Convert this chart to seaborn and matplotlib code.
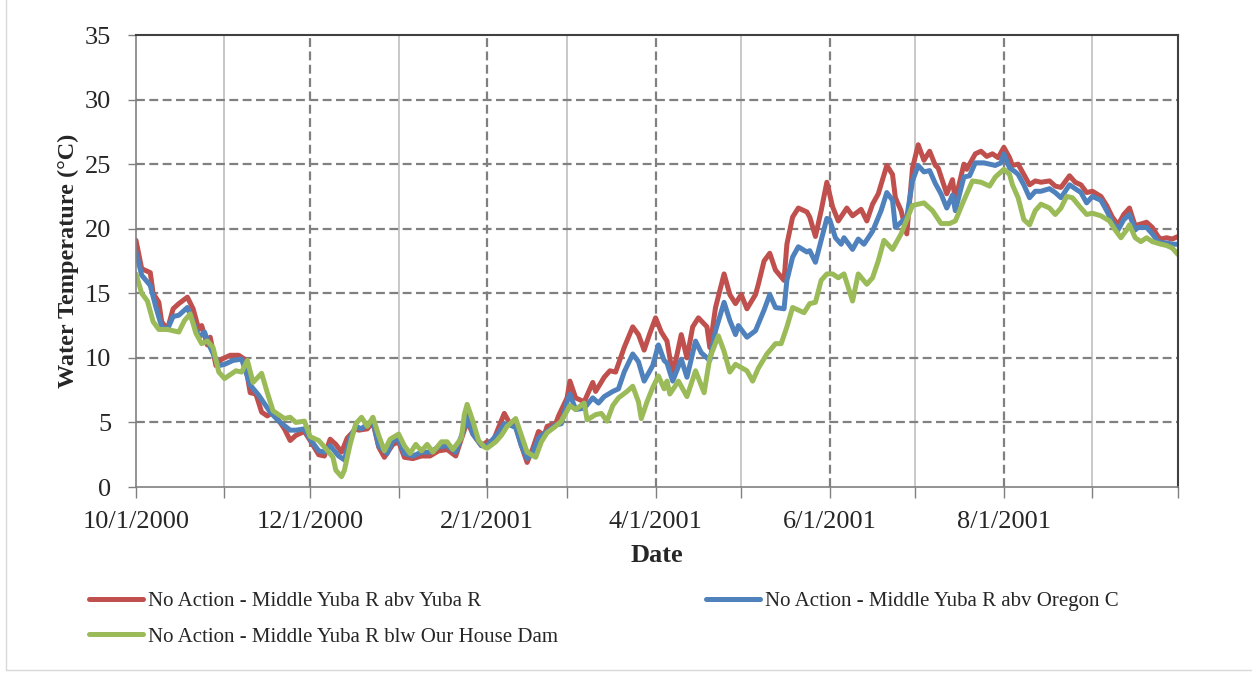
import pandas as pd
import matplotlib
matplotlib.use("Agg")
import matplotlib.pyplot as plt
import matplotlib.dates as mdates
from matplotlib.lines import Line2D
import seaborn as sns

# daily water temperature, day 0 = 10/1/2000
start = pd.Timestamp("2000-10-01")

red_days = [0, 2, 5, 6, 8, 9, 11, 13, 15, 18, 20, 22, 23, 25, 26, 28, 30, 33, 36, 38, 40, 42, 44, 46, 48, 52, 54, 56, 59,
            61, 64, 66, 68, 70, 72, 74, 77, 78, 81, 83, 85, 87, 90, 92, 94, 97, 100, 103, 106, 109, 112, 115, 116, 118, 121,
            123, 125, 127, 129, 131, 133, 135, 137, 139, 141, 143, 144, 147, 148, 151, 152, 154, 157, 160, 161, 164, 166, 168,
            171, 174, 176, 178, 180, 182, 184, 186, 188, 191, 193, 195, 197, 200, 201, 203, 206, 208, 210, 212, 214, 217, 218,
            220, 222, 224, 227, 228, 230, 232, 235, 236, 238, 240, 242, 244, 246, 249, 251, 254, 256, 258, 260, 263, 265, 266,
            268, 270, 272, 274, 276, 278, 280, 281, 284, 286, 287, 290, 291, 294, 296, 298, 300, 302, 304, 306, 307, 309, 311,
            313, 315, 317, 320, 322, 324, 327, 329, 331, 333, 335, 338, 340, 342, 344, 346, 348, 350, 351, 354, 356, 358, 359,
            361, 363, 365]
red_temp = [19.1, 16.9, 16.6, 15.0, 14.3, 12.8, 12.2, 13.8, 14.2, 14.7, 13.8, 12.2, 12.5, 11.0, 11.6, 9.4, 9.9, 10.2, 10.2,
            9.9, 7.3, 7.2, 5.8, 5.5, 5.8, 4.5, 3.6, 4.0, 4.3,
            3.6, 2.5, 2.4, 3.7, 3.3, 2.7, 3.8, 4.5, 4.4, 4.5, 5.0, 3.1, 2.3, 3.3, 3.5, 2.3, 2.2, 2.4, 2.4, 2.8, 2.9, 2.4, 4.4,
            5.1, 4.1, 3.2,
            3.5, 3.5, 4.6, 5.7, 4.9, 4.7, 3.2, 1.9, 3.0, 4.3, 4.0, 4.7, 4.9, 5.5, 6.9, 8.2, 6.9, 6.6, 8.1, 7.4, 8.5, 9.0, 8.9,
            10.8, 12.4, 11.8, 10.6, 11.9, 13.1, 12.0, 11.3, 8.7, 11.8, 10.0, 12.4, 13.1, 12.4, 10.8, 13.9, 16.5, 14.9, 14.2,
            14.9, 13.8, 14.9, 15.7, 17.5, 18.1, 16.8, 16.0, 18.8, 20.9, 21.6, 21.3, 20.9, 19.4, 21.4, 23.6, 21.7, 20.6, 21.6,
            21.0, 21.5, 20.6, 21.9, 22.7, 24.9, 24.2, 22.4, 21.4, 19.6, 24.7, 26.5, 25.3, 26.0, 24.9, 24.7, 22.7, 23.8, 22.2,
            25.0, 24.6, 25.8, 26.0, 25.6, 25.8, 25.5, 26.3, 25.5, 24.9, 25.0, 24.2, 23.4, 23.7, 23.6, 23.7, 23.3, 23.2, 24.1,
            23.6, 23.4, 22.8, 22.9, 22.5, 21.8, 20.9, 20.3, 21.1, 21.6, 20.2, 20.3, 20.5, 20.1, 19.4, 19.2, 19.3, 19.2, 19.4]

blue_days = [0, 2, 5, 7, 9, 11, 13, 15, 18, 20, 22, 24, 26, 29, 31, 34, 37, 40, 43, 47, 50, 54, 56, 59,
             61, 64, 66, 68, 71, 73, 75, 77, 79, 81, 83, 85, 88, 90, 92, 94, 97, 100, 103, 106, 109, 112, 115, 116, 118, 121,
             123, 127, 129, 131, 133, 135, 137, 139, 141, 144, 147, 149, 151, 152, 154, 157, 160, 162, 164, 167, 169, 171,
             174, 176, 178, 181, 183, 185, 186, 188, 191, 193, 196, 198, 201, 203, 206, 208, 210, 211, 214, 217, 220, 222,
             224, 227, 228, 230, 232, 235, 236, 238, 240, 242, 243, 245, 247, 248, 251, 253, 255, 258, 261, 263, 265, 266,
             268, 270, 272, 274, 276, 278, 280, 282, 284, 286, 287, 290, 292, 294, 297, 299, 301, 303, 304, 306, 308, 309,
             311, 313, 315, 317, 320, 322, 324, 327, 329, 331, 333, 335, 338, 340, 342, 344, 346, 348, 350, 351, 354, 356,
             358, 359, 361, 363, 365]
blue_temp = [18.2, 16.4, 15.6, 13.9, 12.4, 12.2, 13.2, 13.3, 13.9, 12.8, 11.6, 12.0, 10.8, 9.4, 9.5, 9.8, 9.9, 7.9, 7.1,
             5.8, 5.1, 4.4, 4.4, 4.5,
             3.7, 2.8, 2.7, 3.2, 2.4, 2.1, 3.8, 4.7, 4.5, 4.9, 5.1, 3.2, 2.6, 3.6, 3.7, 2.6, 2.4, 2.7, 2.7, 3.1, 3.2, 2.7, 4.6,
             5.6, 4.1, 3.2,
             3.2, 4.2, 4.9, 4.8, 4.6, 3.2, 2.2, 2.7, 3.8, 4.3, 4.8, 4.9, 6.6, 7.2, 6.0, 6.1, 6.9, 6.5, 7.0, 7.4, 7.6, 8.9,
             10.3, 9.7, 8.2, 9.4, 11.0, 9.8, 9.6, 8.2, 9.9, 8.5, 11.3, 10.4, 9.8, 12.1, 14.3, 12.9, 11.8, 12.5, 11.6, 12.1,
             13.7, 14.9, 13.9, 13.8, 16.0, 17.8, 18.6, 18.2, 18.3, 17.4, 19.1, 20.8, 20.7, 19.3, 18.8, 19.3, 18.4, 19.2,
             18.8, 19.8, 21.4, 22.8, 22.2, 20.1, 20.5, 20.9, 23.7, 24.9, 24.4, 24.5, 23.5, 22.7, 21.6, 22.6, 21.4, 24.0,
             24.1, 25.1, 25.1, 25.0, 24.9, 25.1, 25.8, 24.7, 24.4, 24.2, 23.4, 22.4, 22.9, 22.9, 23.1, 22.8, 22.4, 23.4,
             23.1, 22.8, 22.0, 22.5, 22.2, 21.4, 20.5, 19.9, 20.7, 21.1, 19.9, 20.1, 20.1, 19.6, 19.0, 18.9, 18.9, 18.8, 18.8]

green_days = [0, 2, 4, 6, 8, 11, 15, 17, 19, 21, 23, 25, 27, 29, 31, 35, 37, 39, 41, 44, 46, 48, 52, 54, 56, 59,
              61, 64, 66, 69, 70, 72, 73, 75, 77, 79, 81, 83, 85, 87, 89, 92, 94, 96, 98, 100, 102, 104, 107, 109, 111, 114,
              115, 116, 118, 120, 122,
              123, 126, 128, 130, 133, 135, 137, 140, 142, 144, 147, 149, 151, 152, 154, 157, 158, 161, 163, 165, 167, 169,
              172, 174, 176, 177, 179, 181, 183, 185, 186, 187, 190, 193, 196, 199, 201, 204, 206, 208, 210, 214, 216, 218,
              221, 224, 226, 228, 230, 234, 236, 238, 240, 242, 244, 246, 248, 251, 253, 256, 258, 260, 262, 265, 268, 270,
              272, 276, 279, 282, 285, 287, 290, 293, 296, 299, 301, 304, 306, 307, 309, 311, 313, 315, 317, 320, 322, 324,
              326, 328, 331, 333, 335, 338, 341, 343, 345, 347, 348, 350, 352, 354, 356, 359, 361, 363, 365]
green_temp = [16.5, 15.0, 14.4, 12.8, 12.2, 12.2, 12.0, 12.9, 13.4, 11.9, 11.1, 11.3, 10.8, 8.9, 8.4, 9.0, 8.9, 9.8, 8.1,
              8.8, 7.3, 5.9, 5.3, 5.4, 5.0, 5.1,
              3.9, 3.6, 3.1, 2.3, 1.3, 0.8, 1.3, 3.3, 4.9, 5.4, 4.7, 5.4, 4.0, 2.8, 3.7, 4.1, 3.2, 2.6, 3.3, 2.8, 3.3, 2.7,
              3.5, 3.5, 2.9, 3.8, 5.6, 6.4, 5.1, 3.6, 3.1,
              3.0, 3.5, 4.0, 4.7, 5.3, 4.0, 2.7, 2.3, 3.5, 4.2, 4.7, 5.1, 5.9, 6.3, 6.0, 6.5, 5.2, 5.6, 5.7, 5.1, 6.3, 6.9,
              7.4, 7.8, 6.6, 5.3, 6.6, 7.7, 8.6, 7.6, 8.2, 7.2, 8.2, 7.0, 9.0, 7.3, 10.0, 11.7, 10.5, 8.9, 9.5, 9.0, 8.2, 9.2,
              10.3, 11.1, 11.1, 12.4, 13.9, 13.5, 14.2, 14.3, 16.0, 16.5, 16.5, 16.2, 16.5, 14.4, 16.5, 15.7, 16.2, 17.5,
              19.1, 18.4, 19.6, 20.7, 21.8, 22.0, 21.4, 20.4, 20.4, 20.6, 22.2, 23.7, 23.6, 23.3, 24.0, 24.6, 24.2, 23.4,
              22.4, 20.7, 20.3, 21.4, 21.9, 21.6, 21.1, 21.6, 22.5, 22.4, 21.6, 21.1, 21.2, 21.0, 20.6, 19.9, 19.3, 19.9,
              20.3, 19.3, 19.0, 19.3, 19.0, 18.8, 18.7, 18.5, 18.0]

names = ["No Action - Middle Yuba R abv Yuba R",
         "No Action - Middle Yuba R abv Oregon C",
         "No Action - Middle Yuba R blw Our House Dam"]
colors = ["#C0504D", "#4F81BD", "#9BBB59"]

frames = []
for name, days, temp in zip(names, [red_days, blue_days, green_days], [red_temp, blue_temp, green_temp]):
    frames.append(pd.DataFrame({"Date": start + pd.to_timedelta(days, unit="D"),
                                "Temp": temp, "Series": name}))
df = pd.concat(frames, ignore_index=True)

sns.set_theme(style="white")
plt.rcParams["font.family"] = ["Liberation Serif", "DejaVu Serif"]

fig = plt.figure(figsize=(12.52, 6.73), dpi=100)
ax = fig.add_axes([136 / 1252, 1 - 487 / 673, (1178 - 136) / 1252, (487 - 35) / 673])

# grid lines first so the series sit on top
for d in pd.date_range("2000-11-01", "2001-09-01", freq="2MS"):
    ax.axvline(d, color="#BFBFBF", lw=1.2, zorder=0)
for d in pd.date_range("2000-12-01", "2001-08-01", freq="2MS"):
    ax.axvline(d, color="#808080", lw=1.6, ls=(0, (4, 2)), zorder=0)
for v in range(5, 35, 5):
    ax.axhline(v, color="#808080", lw=1.6, ls=(0, (4, 2)), zorder=0)

sns.lineplot(data=df, x="Date", y="Temp", hue="Series", hue_order=names,
             palette=colors, linewidth=3.6, ax=ax, sort=False, estimator=None)

ax.set_xlim(start, pd.Timestamp("2001-10-01"))
ax.set_ylim(0, 35)
ax.set_yticks(range(0, 36, 5))
ax.xaxis.set_major_locator(mdates.MonthLocator(bymonth=[10, 12, 2, 4, 6, 8]))
ax.xaxis.set_minor_locator(mdates.MonthLocator())
ax.xaxis.set_major_formatter(plt.FuncFormatter(
    lambda x, pos: f"{mdates.num2date(x).month}/{mdates.num2date(x).day}/{mdates.num2date(x).year}"
    if pos is not None and mdates.num2date(x).year * 12 + mdates.num2date(x).month < 2001 * 12 + 10 else ""))
ax.tick_params(axis="x", which="both", direction="out", length=8, width=1, color="#808080",
               labelsize=19, pad=9, bottom=True)
ax.tick_params(axis="y", direction="out", length=6, width=1, color="#808080",
               labelsize=19, pad=12, left=True)

for side in ["left", "bottom"]:
    ax.spines[side].set_color("#808080")
    ax.spines[side].set_linewidth(1.2)
for side in ["top", "right"]:
    ax.spines[side].set_color("#404040")
    ax.spines[side].set_linewidth(1.5)

ax.set_xlabel("Date", fontsize=19, fontweight="bold", labelpad=8)
ax.set_ylabel("Water Temperature (°C)", fontsize=17.5, fontweight="bold", labelpad=4)

handles, labels = ax.get_legend_handles_labels()
ax.get_legend().remove()
order = [0, 2, 1]
fig.legend([handles[i] for i in order], [labels[i] for i in order], ncol=2,
           loc="upper left", bbox_to_anchor=(70 / 1252, 1 - 573 / 673), frameon=False,
           fontsize=15, handlelength=2.6, handletextpad=0.25, columnspacing=7.1,
           labelspacing=0.75)

# thin chart-area border
fig.add_artist(Line2D([6 / 1252, 6 / 1252], [3 / 673, 1], color="#D9D9D9", lw=1))
fig.add_artist(Line2D([6 / 1252, 1], [3 / 673, 3 / 673], color="#D9D9D9", lw=1))

fig.savefig("out.png", dpi=100)
